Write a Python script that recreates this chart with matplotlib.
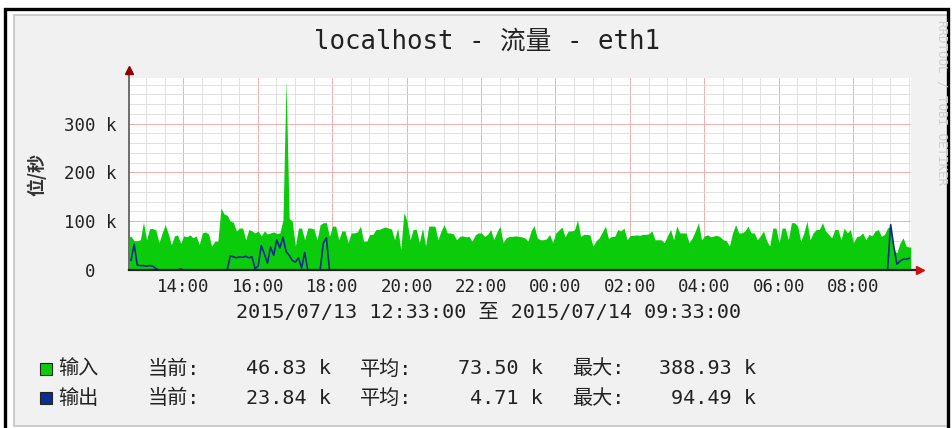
import matplotlib.pyplot as plt
from matplotlib.patches import Rectangle

# 5-minute samples from 2015/07/13 12:35 on, in k bit/s
start_hour = 12 + 33 / 60
step_hours = 5 / 60
inbound = [
    69, 60, 60, 62, 98, 62, 85, 85, 82, 56, 75, 93, 75, 52, 70, 72, 55, 70, 68, 72,
    66, 70, 52, 76, 78, 74, 49, 59, 59, 127, 115, 112, 100, 98, 80, 86, 86, 62, 83, 80,
    76, 80, 70, 80, 74, 76, 78, 75, 76, 103, 389, 106, 100, 49, 86, 86, 62, 86, 86, 84,
    62, 93, 97, 97, 69, 90, 90, 62, 80, 80, 56, 76, 76, 78, 90, 59, 59, 73, 73, 83,
    83, 86, 88, 86, 84, 62, 86, 42, 118, 100, 62, 83, 83, 56, 86, 49, 90, 90, 90, 62,
    80, 93, 76, 76, 74, 62, 69, 70, 68, 69, 59, 72, 76, 76, 69, 73, 83, 62, 78, 90,
    56, 66, 69, 69, 70, 69, 68, 66, 59, 80, 91, 66, 62, 62, 64, 73, 56, 76, 82, 88,
    68, 80, 80, 82, 102, 69, 73, 73, 72, 49, 60, 66, 78, 90, 64, 69, 69, 83, 80, 86,
    62, 71, 71, 72, 71, 73, 73, 74, 80, 62, 62, 62, 56, 70, 83, 62, 90, 76, 76, 76,
    56, 66, 80, 97, 62, 70, 72, 68, 70, 71, 68, 62, 60, 49, 76, 93, 76, 76, 80, 90,
    76, 76, 62, 70, 80, 60, 49, 86, 86, 56, 86, 86, 62, 97, 97, 90, 59, 76, 100, 62,
    76, 83, 83, 97, 80, 73, 66, 83, 83, 62, 86, 76, 83, 56, 68, 70, 76, 62, 73, 70,
    80, 83, 69, 73, 86, 90, 42, 35, 55, 66, 49, 47,
]
outbound = [
    20, 53, 10, 9, 9, 8, 9, 8, 3, 0, 0, 0, 0, 0, 0, 0, 2, 0, 0, 0,
    0, 0, 0, 0, 0, 0, 0, 0, 0, 0, 0, 0, 29, 27, 25, 27, 26, 28, 25, 27,
    3, 8, 50, 33, 14, 47, 30, 62, 45, 67, 38, 30, 20, 16, 25, 4, 36, 0, 0, 0,
    0, 0, 55, 66, 0,
] + [0] * 180 + [93, 49, 12, 18, 22, 22, 24]

hour_ticks = list(range(14, 33, 2))
hour_labels = ['%02d:00' % (h % 24) for h in hour_ticks]
y_ticks = [0, 100, 200, 300]
y_labels = ['  0  ', '100 k', '200 k', '300 k']

title = 'localhost - 流量 - eth1'
subtitle = '2015/07/13 12:33:00 至 2015/07/14 09:33:00'
legend_names = ['输入', '输出']
legend_colors = ['#0bcc0b', '#0a2d8f']
current = ['46.83 k', '23.84 k']
average = ['73.50 k', '4.71 k']
maximum = ['388.93 k', '94.49 k']

W, H = 953, 428
mono = ['DejaVu Sans Mono', 'Noto Sans CJK SC']
cjk = ['Noto Sans CJK SC', 'DejaVu Sans']


def fx(x):
    return x / W


def fy(y):
    return 1 - y / H


fig = plt.figure(figsize=(W / 100, H / 100), dpi=100)
fig.patch.set_facecolor('white')
fig.add_artist(Rectangle((fx(14), fy(426)), fx(935), 411 / H, transform=fig.transFigure,
                         facecolor='#f1f1f1', edgecolor='#c4c4c4', lw=1.2, zorder=-5))
fig.add_artist(Rectangle((fx(5), fy(440)), fx(943), 431 / H, transform=fig.transFigure,
                         facecolor='none', edgecolor='black', lw=2.4, zorder=-4))

ax = fig.add_axes([fx(129.5), fy(270), 781.3 / W, (270 - 78.3) / H])
ax.set_facecolor('white')

x = [start_hour + (i + 0.5) * step_hours for i in range(len(inbound))]
x = [start_hour] + x + [start_hour + len(inbound) * step_hours]
ax.fill_between(x, [inbound[0]] + inbound + [inbound[-1]], color=legend_colors[0], lw=0)
xo = [start_hour + (i + 0.5) * step_hours for i in range(len(outbound))]
ax.plot(xo, outbound, color=legend_colors[1], lw=1.2)

ax.set_xlim(start_hour, start_hour + 21)
ax.set_ylim(0, 393)
ax.set_xticks(hour_ticks)
ax.set_xticklabels(hour_labels)
ax.set_xticks([13 + 0.5 * i for i in range(42)], minor=True)
ax.set_yticks(y_ticks)
ax.set_yticklabels(y_labels)
ax.set_yticks(list(range(0, 393, 20)), minor=True)
ax.tick_params(which='both', length=0)
ax.tick_params(axis='y', pad=9, labelsize=12.5, labelcolor='#222222')
ax.tick_params(axis='x', pad=6, labelsize=12.5, labelcolor='#222222')
for lab in ax.get_xticklabels() + ax.get_yticklabels():
    lab.set_family('DejaVu Sans Mono')
ax.grid(which='minor', color='#dcdcdc', lw=0.6)
ax.grid(which='major', color='#f0b0b0', lw=0.7)
ax.set_axisbelow(True)
for s in ax.spines.values():
    s.set_visible(False)

# axes with arrow heads
ax.plot([0, 0], [0, 1.04], transform=ax.transAxes, color='#555555', lw=1.2, clip_on=False)
ax.plot([0, 1.01], [0, 0], transform=ax.transAxes, color='#222222', lw=1.6, clip_on=False)
ax.plot([0], [1.045], marker='^', transform=ax.transAxes, color='#8b0000', ms=6, clip_on=False)
ax.plot([1.012], [0], marker='>', transform=ax.transAxes, color='#cc1111', ms=6, clip_on=False)

fig.text(fx(486.5), fy(42), title, ha='center', va='center', fontsize=18.5,
         family=mono, color='#222222')
fig.text(fx(37), fy(175), '位/秒', ha='center', va='center', rotation=90,
         fontsize=13, family=cjk, weight='bold', color='#333333')
fig.text(fx(489), fy(312), subtitle, ha='center', va='center', fontsize=14.5,
         family=mono, color='#222222')
fig.text(fx(942), fy(20), 'RRDTOOL / TOBI OETIKER', ha='center', va='top', rotation=270,
         fontsize=9, family='DejaVu Sans Mono', color='#d0d0d0')

for row, ypx in enumerate([369, 398]):
    fig.add_artist(Rectangle((fx(40), fy(ypx + 6)), 12 / W, 12 / H, transform=fig.transFigure,
                             facecolor=legend_colors[row], edgecolor='#222222', lw=0.8))
    kw = dict(va='center', fontsize=14.5, family=mono, color='#222222')
    fig.text(fx(58), fy(ypx), legend_names[row], ha='left', **kw)
    fig.text(fx(148), fy(ypx), '当前:', ha='left', **kw)
    fig.text(fx(331), fy(ypx), current[row], ha='right', **kw)
    fig.text(fx(360), fy(ypx), '平均:', ha='left', **kw)
    fig.text(fx(543), fy(ypx), average[row], ha='right', **kw)
    fig.text(fx(572), fy(ypx), '最大:', ha='left', **kw)
    fig.text(fx(756), fy(ypx), maximum[row], ha='right', **kw)

fig.savefig('out.png', dpi=100)
